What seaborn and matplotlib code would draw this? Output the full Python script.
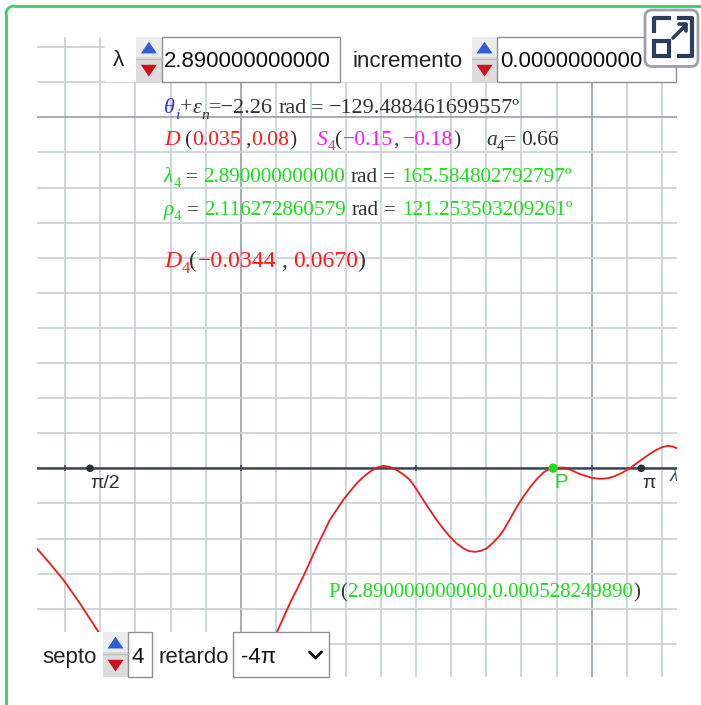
import numpy as np
import matplotlib
matplotlib.use("Agg")
import matplotlib.pyplot as plt
import seaborn as sns
import pandas as pd
from matplotlib.ticker import MultipleLocator
from matplotlib.patches import Rectangle, FancyBboxPatch, Polygon

# ---------------- data ----------------
lam_vals = [1.419, 1.457, 1.495, 1.542, 1.594, 1.70, 1.85, 2.00, 2.104, 2.140,
            2.178, 2.217, 2.254, 2.292, 2.330, 2.349, 2.368, 2.387, 2.406, 2.425,
            2.444, 2.463, 2.482, 2.501, 2.520, 2.539, 2.558, 2.577, 2.596, 2.615,
            2.634, 2.651, 2.668, 2.685, 2.701, 2.720, 2.739, 2.749, 2.768, 2.787,
            2.806, 2.826, 2.845, 2.865, 2.878, 2.890, 2.905, 2.922, 2.941, 2.961,
            2.980, 3.000, 3.014, 3.028, 3.047, 3.067, 3.086, 3.105, 3.125, 3.144,
            3.164, 3.183, 3.200, 3.217, 3.230, 3.243]
amp_vals = [-0.228, -0.272, -0.318, -0.385, -0.465, -0.62, -0.76, -0.62, -0.465, -0.385,
            -0.309, -0.223, -0.147, -0.090, -0.043, -0.025, -0.010, 0.002, 0.007, 0.004,
            -0.005, -0.017, -0.033, -0.060, -0.090, -0.119, -0.147, -0.172, -0.195, -0.214,
            -0.228, -0.236, -0.238, -0.235, -0.228, -0.211, -0.190, -0.176, -0.143, -0.109,
            -0.080, -0.052, -0.029, -0.010, -0.003, 0.0005, 0.002, 0.002, -0.005, -0.014,
            -0.021, -0.027, -0.029, -0.030, -0.028, -0.022, -0.013, -0.002, 0.012, 0.026,
            0.040, 0.052, 0.060, 0.064, 0.062, 0.057]
axis_marks = [np.pi / 2, np.pi]
axis_mark_labels = ["π/2", "π"]
P_point = (2.89, 0.000528249890)

lam_str = "2.890000000000"
inc_str = "0.0000000000"
septo_str = "4"
retardo_str = "-4π"

# ---------------- figure ----------------
sns.set_style("white")
plt.rcParams['font.family'] = ['DejaVu Sans']
W, H = 701, 705
fig = plt.figure(figsize=(W / 100, H / 100), dpi=100)

x0, x1, y0, y1 = 36.7, 676.7, 36.7, 677.0
ax = fig.add_axes([x0 / W, (H - y1) / H, (x1 - x0) / W, (y1 - y0) / H])
ax.set_xlim(2 + (x0 - 240.7) / 351, 2 + (x1 - 240.7) / 351)
ax.set_ylim((468.3 - y1) / 351, (468.3 - y0) / 351)
for s in ax.spines.values():
    s.set_visible(False)
ax.xaxis.set_minor_locator(MultipleLocator(0.1))
ax.yaxis.set_minor_locator(MultipleLocator(0.1))
ax.xaxis.set_major_locator(MultipleLocator(1))
ax.yaxis.set_major_locator(MultipleLocator(1))
ax.tick_params(which='both', length=0, labelbottom=False, labelleft=False)
ax.grid(which='minor', color='#cdd4d8', lw=1.3)
ax.grid(which='major', color='#9ea7ad', lw=1.3)
ax.set_axisbelow(True)

# x axis
ax.axhline(0, color='#3e4a52', lw=1.8, zorder=2)
ax.plot([1.5, 2.0, 2.5, 3.0], [0, 0, 0, 0], ls='none', marker='|', ms=5,
        mew=1.2, color='#3e4a52', zorder=2)

df = pd.DataFrame({"lam": lam_vals, "amp": amp_vals})
sns.lineplot(data=df, x="lam", y="amp", sort=False, color='#ee1c1c', lw=1.3,
             ax=ax, zorder=3, solid_joinstyle='round', solid_capstyle='round')
ax.set_xlabel("")
ax.set_ylabel("")

sns.scatterplot(x=axis_marks, y=[0, 0], color='#263238', s=30, edgecolor='none',
                ax=ax, zorder=4)
for xm, lab in zip(axis_marks, axis_mark_labels):
    ax.text(xm + 0.002, -0.056, lab, fontsize=14, color='#263238',
            family='Liberation Sans', ha='left', va='baseline', zorder=5)
ax.text(3.222, -0.036, "λ", fontsize=14, color='#37474f', family='Liberation Serif',
        style='italic', ha='left', va='baseline', clip_on=True, zorder=5)

sns.scatterplot(x=[P_point[0]], y=[P_point[1]], color='#1edc1e', s=45,
                edgecolor='none', ax=ax, zorder=5)
ax.text(P_point[0] + 0.003, -0.056, "P", fontsize=14.5, color='#1edc1e',
        family='Liberation Sans', ha='left', va='baseline', zorder=5)

# ---------------- overlay (pixel coordinates) ----------------
ov = fig.add_axes([0, 0, 1, 1])
ov.set_xlim(0, W)
ov.set_ylim(H, 0)
ov.axis('off')
ov.patch.set_alpha(0)

renderer = fig.canvas.get_renderer()
DARK = '#333333'
GREEN = '#1edc1e'
RED = '#ff1a1a'
MAG = '#f01ef0'
BLUE = '#3434f0'


def rich(x, y, segs, fs=15, family='Liberation Serif'):
    for seg in segs:
        if isinstance(seg, (int, float)):
            x += seg
            continue
        txt, color = seg[0], seg[1]
        style = seg[2] if len(seg) > 2 else 'normal'
        sub = seg[3] if len(seg) > 3 else False
        size = fs * (0.7 if sub else 1.0)
        dy = fs * 0.35 if sub else 0
        t = ov.text(x, y + dy, txt, color=color, fontsize=size, style=style,
                    family=family, ha='left', va='baseline', zorder=10)
        bb = t.get_window_extent(renderer=renderer)
        x += bb.width
    return x


rich(164, 113, [("θ", BLUE, 'italic'), ("i", BLUE, 'italic', True), 1, ("+", DARK),
                ("ε", DARK, 'italic'), ("n", DARK, 'italic', True),
                ("=−2.26", DARK), 5, ("rad", DARK), 5, ("=", DARK), 5,
                ("−129.488461699557º", DARK)], fs=15.9)
rich(164, 145, [("D", RED, 'italic'), 5, ("(", DARK), ("0.035", RED), 5, (",", DARK),
                ("0.08", RED), (")", DARK), 21, ("S", MAG, 'italic'), ("4", MAG, 'normal', True),
                ("(", DARK), ("−0.15", MAG), (",", DARK), 5, ("−0.18", MAG), (")", DARK), 25,
                ("a", DARK, 'italic'), ("4", DARK, 'normal', True), ("=", DARK), 5,
                ("0.66", DARK)], fs=15.6)
rich(164, 182, [("λ", GREEN, 'italic'), ("4", GREEN, 'normal', True), 5.5, ("=", DARK), 5.5,
                (lam_str, GREEN), 5.5, ("rad", DARK), 5.5, ("=", DARK), 5.5,
                ("165.584802792797º", GREEN)], fs=15.3)
rich(164, 215, [("ρ", GREEN, 'italic'), ("4", GREEN, 'normal', True), 5.5, ("=", DARK), 5.5,
                ("2.116272860579", GREEN), 5.5, ("rad", DARK), 5.5, ("=", DARK), 5.5,
                ("121.253503209261º", GREEN)], fs=15.3)
rich(164, 267, [("D", RED, 'italic'), ("4", RED, 'normal', True), ("(", DARK),
                ("−0.0344", RED), 5.5, (",", DARK), 5.5, ("0.0670", RED), (")", DARK)], fs=17.1)
rich(328.5, 597, [("P", GREEN), ("(", DARK), (f"{P_point[0]:.12f},{P_point[1]:.12f}", GREEN),
                  (")", DARK)], fs=15)

# ---------- top control bar ----------
ov.add_patch(Rectangle((105, 36.7), 572, 45.5, facecolor='white', edgecolor='none', zorder=6))


def spinner(xa, xb, ya, yb):
    ov.add_patch(Rectangle((xa, ya), xb - xa, yb - ya, facecolor='#dcdcdc',
                           edgecolor='none', zorder=7))
    ov.add_patch(Rectangle((xa, ya), xb - xa, (yb - ya) * 0.45, facecolor='#ececec',
                           edgecolor='none', zorder=7))
    cx = (xa + xb) / 2
    hgt = yb - ya
    ov.add_patch(Polygon([[cx - 8, ya + hgt * 0.37], [cx + 8, ya + hgt * 0.37],
                          [cx, ya + hgt * 0.11]], closed=True, facecolor='#2d5ed4',
                         edgecolor='none', zorder=8))
    ov.add_patch(Polygon([[cx - 8, ya + hgt * 0.62], [cx + 8, ya + hgt * 0.62],
                          [cx, ya + hgt * 0.88]], closed=True, facecolor='#c8141c',
                         edgecolor='none', zorder=8))
    ov.plot([xa, xb], [ya + hgt * 0.5, ya + hgt * 0.5], color='#bdbdbd', lw=1, zorder=8)


def tbox(xa, xb, ya, yb):
    ov.add_patch(Rectangle((xa, ya), xb - xa, yb - ya, facecolor='white',
                           edgecolor='#8f8f8f', lw=1.0, zorder=7))


SANS = 'Liberation Sans'
ov.text(113, 66, "λ", fontsize=16, family=SANS, color='#222222', va='baseline', zorder=9)
spinner(136, 161.7, 36.7, 82)
tbox(161.7, 340, 36.7, 82)
ov.text(164, 67, lam_str, fontsize=16, family=SANS, color='#111111', va='baseline', zorder=9)
ov.text(352, 67, "incremento", fontsize=16, family=SANS, color='#222222', va='baseline', zorder=9)
spinner(471.7, 497.3, 36.7, 82)
tbox(497.3, 676, 36.7, 82)
ov.text(500, 67, inc_str, fontsize=16, family=SANS, color='#111111', va='baseline', zorder=9)

# expand button
ov.add_patch(FancyBboxPatch((645, 10), 53, 56.5, boxstyle="round,pad=0,rounding_size=7",
                            facecolor='white', edgecolor='#9aa1a8', lw=2, zorder=11))
IC = '#2c3e5c'
ov.plot([654, 654, 671], [33, 18, 18], color=IC, lw=3, solid_capstyle='butt', zorder=12)
ov.plot([677, 692, 692, 677], [18, 18, 56, 56], color=IC, lw=3, solid_capstyle='butt', zorder=12)
ov.add_patch(Rectangle((654, 41), 15, 15, facecolor='none', edgecolor=IC, lw=3, zorder=12))
ov.plot([673, 686], [38, 25], color=IC, lw=2.6, zorder=12)
ov.plot([679, 686, 686], [24, 24, 31], color=IC, lw=2.6, zorder=12)

# ---------- bottom control panel ----------
ov.add_patch(Rectangle((36.7, 631.7), 293, 45.3, facecolor='white', edgecolor='none', zorder=6))
ov.text(42, 663, "septo", fontsize=16, family=SANS, color='#222222', va='baseline', zorder=9)
spinner(102.7, 128.3, 631.7, 677)
tbox(128.3, 152.3, 631.7, 677)
ov.text(131, 663, septo_str, fontsize=16, family=SANS, color='#111111', va='baseline', zorder=9)
ov.text(158.3, 663, "retardo", fontsize=16, family=SANS, color='#222222', va='baseline', zorder=9)
tbox(233.3, 329, 631.7, 677)
ov.text(240.5, 663, retardo_str, fontsize=16, family=SANS, color='#111111', va='baseline', zorder=9)
ov.plot([309.5, 315.5, 321.5], [652, 658, 652], color='#111111', lw=2, zorder=9)

# ---------- green frame (top-left corner visible) ----------
ov.plot([6, 6], [H + 5, 14], color='#3cc96b', lw=2, zorder=12, solid_capstyle='butt')
ov.plot([14, W + 5], [6, 6], color='#3cc96b', lw=2, zorder=12, solid_capstyle='butt')
tt = np.linspace(np.pi, 1.5 * np.pi, 20)
ov.plot(14 + 8 * np.cos(tt), 14 + 8 * np.sin(tt), color='#3cc96b', lw=2, zorder=12)

fig.savefig("out.png", dpi=100, facecolor='white')
